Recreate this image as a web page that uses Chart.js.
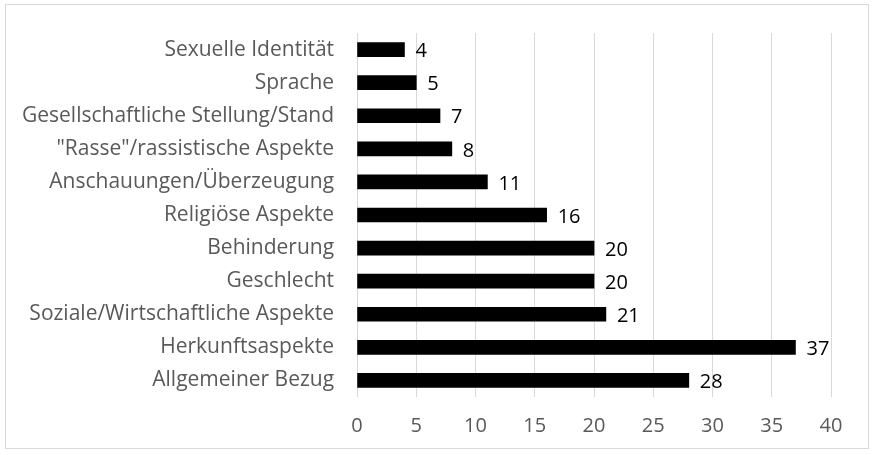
<!DOCTYPE html>
<html>
<head>
<meta charset="utf-8">
<script src="https://cdn.jsdelivr.net/npm/chart.js@4/dist/chart.umd.min.js"></script>
<style>
  body { margin: 0; background: #fff; }
  #wrap { width: 875px; height: 455px; }
</style>
</head>
<body>
<div id="wrap"><canvas id="chart"></canvas></div>
<script>
const categories = [
  'Sexuelle Identität',
  'Sprache',
  'Gesellschaftliche Stellung/Stand',
  '"Rasse"/rassistische Aspekte',
  'Anschauungen/Überzeugung',
  'Religiöse Aspekte',
  'Behinderung',
  'Geschlecht',
  'Soziale/Wirtschaftliche Aspekte',
  'Herkunftsaspekte',
  'Allgemeiner Bezug'
]
const counts = [4, 5, 7, 8, 11, 16, 20, 20, 21, 37, 28]
const xTicks = [0, 5, 10, 15, 20, 25, 30, 35, 40]

const fontFamily = "'Open Sans', sans-serif"

// white background + thin frame like the office export
const frame = {
  id: 'frame',
  beforeDraw (chart) {
    const ctx = chart.ctx
    ctx.save()
    ctx.fillStyle = '#fff'
    ctx.fillRect(0, 0, chart.width, chart.height)
    ctx.strokeStyle = '#d9d9d9'
    ctx.lineWidth = 1
    ctx.strokeRect(5.5, 4.5, chart.width - 12, chart.height - 11)
    ctx.restore()
  }
}

// value labels next to each bar end
const valueLabels = {
  id: 'valueLabels',
  afterDatasetsDraw (chart) {
    const ctx = chart.ctx
    const meta = chart.getDatasetMeta(0)
    ctx.save()
    ctx.fillStyle = '#000'
    ctx.font = '20px ' + fontFamily
    ctx.textAlign = 'left'
    ctx.textBaseline = 'middle'
    meta.data.forEach((bar, i) => {
      ctx.fillText(String(counts[i]), bar.x + 11, bar.y + 2)
    })
    ctx.restore()
  }
}

new Chart(document.getElementById('chart'), {
  type: 'bar',
  data: {
    labels: categories,
    datasets: [{
      data: counts,
      backgroundColor: '#000',
      borderWidth: 0,
      barThickness: 14
    }]
  },
  options: {
    indexAxis: 'y',
    responsive: true,
    maintainAspectRatio: false,
    animation: false,
    layout: { padding: { top: 33, right: 44, bottom: 0, left: 7 } },
    plugins: {
      legend: { display: false },
      tooltip: { enabled: false }
    },
    scales: {
      x: {
        min: 0,
        max: 40,
        afterBuildTicks: axis => { axis.ticks = xTicks.map(v => ({ value: v })) },
        afterFit: axis => { axis.height = 58 },
        grid: { color: '#d9d9d9', drawTicks: false },
        border: { display: false },
        ticks: {
          color: '#595959',
          padding: 17,
          font: { family: fontFamily, size: 20 }
        }
      },
      y: {
        grid: { display: false },
        border: { display: false },
        ticks: {
          color: '#595959',
          padding: 15,
          autoSkip: false,
          font: { family: fontFamily, size: 21 }
        }
      }
    }
  },
  plugins: [frame, valueLabels]
})
</script>
</body>
</html>
